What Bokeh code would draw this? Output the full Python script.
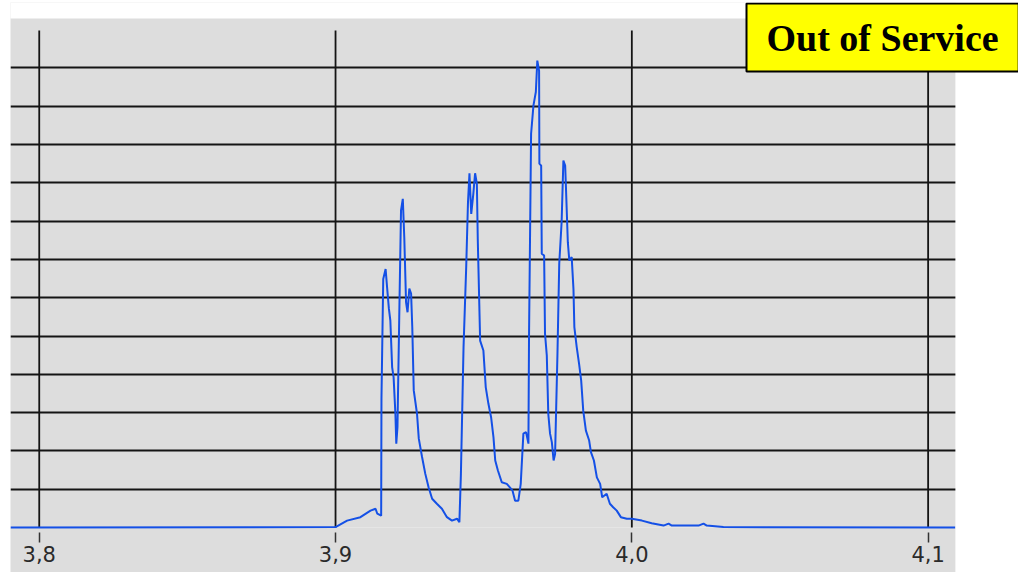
from bokeh.plotting import figure
from bokeh.models import Range1d, FixedTicker, Label, ColumnDataSource, Grid, BoxAnnotation
from bokeh.embed import file_html
from bokeh.resources import INLINE

# spectrum trace (x position, intensity in grid units of 10)
mz = [3.7903, 3.9000, 3.9039, 3.9084, 3.9118, 3.9135, 3.9141, 3.9154, 3.9155, 3.9161,
      3.9169, 3.9174, 3.9180, 3.9185, 3.9191, 3.9196, 3.9202, 3.9205, 3.9209, 3.9215,
      3.9221, 3.9227, 3.9232, 3.9238, 3.9243, 3.9249, 3.9255, 3.9259, 3.9264, 3.9275,
      3.9281, 3.9292, 3.9303, 3.9314, 3.9326, 3.9342, 3.9359, 3.9376, 3.9393, 3.9410,
      3.9418, 3.9423, 3.9432, 3.9441, 3.9447, 3.9452, 3.9458, 3.9465, 3.9471, 3.9477,
      3.9480, 3.9488, 3.9499, 3.9507, 3.9516, 3.9525, 3.9533, 3.9539, 3.9548, 3.9561,
      3.9578, 3.9597, 3.9606, 3.9617, 3.9625, 3.9634, 3.9643, 3.9651, 3.9653, 3.9660,
      3.9668, 3.9676, 3.9681, 3.9687, 3.9688, 3.9694, 3.9696, 3.9704, 3.9707, 3.9713,
      3.9718, 3.9724, 3.9730, 3.9736, 3.9741, 3.9749, 3.9755, 3.9763, 3.9769, 3.9775,
      3.9778, 3.9784, 3.9789, 3.9797, 3.9803, 3.9806, 3.9814, 3.9822, 3.9829, 3.9836,
      3.9845, 3.9856, 3.9862, 3.9872, 3.9882, 3.9893, 3.9900, 3.9915, 3.9926, 3.9937,
      3.9949, 3.9963, 3.9983, 4.0000, 4.0034, 4.0067, 4.0107, 4.0124, 4.0135, 4.0225,
      4.0242, 4.0253, 4.0309, 4.1092]
intensity = [0.0, 0.1, 1.8, 2.7, 4.4, 4.9, 3.6, 3.1, 33.7, 64.9,
             67.5, 62.7, 57.2, 54.0, 41.9, 39.2, 29.8, 21.9, 26.2, 54.9,
             82.8, 85.8, 75.8, 58.8, 56.2, 62.4, 61.1, 52.3, 35.8, 29.7,
             23.2, 18.4, 14.0, 10.5, 7.5, 6.2, 4.9, 2.7, 1.8, 2.3,
             1.4, 13.6, 47.1, 68.0, 84.9, 92.5, 81.9, 87.1, 92.5, 89.7,
             75.4, 48.8, 46.2, 36.6, 32.3, 28.8, 23.6, 17.5, 14.9, 11.8,
             11.4, 9.7, 7.0, 7.0, 11.4, 24.5, 24.9, 21.9, 49.7, 102.8,
             110.2, 113.7, 121.9, 119.3, 95.0, 94.5, 71.5, 71.0, 50.6, 44.9,
             29.7, 24.5, 22.3, 17.5, 19.2, 45.4, 68.9, 79.7, 95.8, 94.5,
             88.0, 74.5, 69.7, 70.6, 62.3, 52.3, 47.1, 42.7, 38.4, 30.5,
             25.3, 22.7, 19.7, 17.5, 13.1, 11.4, 7.9, 8.8, 6.2, 5.3,
             4.4, 2.7, 2.3, 2.3, 1.8, 1.1, 0.5, 1.0, 0.5, 0.5,
             1.0, 0.5, 0.1, 0.0]

tick_values = [3.8, 3.9, 4.0, 4.1]
tick_labels = ["3,8", "3,9", "4,0", "4,1"]
grid_levels = [10, 20, 30, 40, 50, 60, 70, 80, 90, 100, 110, 120]
vgrid_top = 129.8
status_text = "Out of Service"

# panel extent (gray area) in data coordinates
panel_right = 4.1092
panel_top = 132.9

GRAY = "#dddddd"

p = figure(width=1008, height=570,
           x_range=Range1d(3.7903, 4.1305), y_range=Range1d(-11.75, 137.08),
           output_backend="svg", toolbar_location=None,
           y_axis_location=None,
           min_border_left=0, min_border_right=0, min_border_top=0, min_border_bottom=0,
           background_fill_color=GRAY, border_fill_color="white")
p.margin = (2, 0, 0, 10)
p.outline_line_color = None
p.xgrid.visible = False

hgrid = Grid(dimension=1, ticker=FixedTicker(ticks=grid_levels),
             grid_line_color="#141414", grid_line_width=1.8)
p.add_layout(hgrid)

vsrc = ColumnDataSource(dict(x=tick_values, y0=[0] * len(tick_values), y1=[vgrid_top] * len(tick_values)))
p.segment(x0="x", y0="y0", x1="x", y1="y1", source=vsrc, line_color="#141414", line_width=1.8)

src = ColumnDataSource(dict(x=mz, y=intensity))
p.line("x", "y", source=src, line_color="#1450e6", line_width=2)

# white page outside the gray panel
p.add_layout(BoxAnnotation(left=panel_right, right=4.5, bottom=-50, top=200,
                           fill_color="white", fill_alpha=1, line_color=None))
p.add_layout(BoxAnnotation(left=3.5, right=4.5, bottom=panel_top, top=200,
                           fill_color="white", fill_alpha=1, line_color=None))

ax = p.xaxis[0]
ax.fixed_location = 0
ax.ticker = FixedTicker(ticks=tick_values)
ax.major_label_overrides = {v: l for v, l in zip(tick_values, tick_labels)}
ax.axis_line_color = None
ax.minor_tick_line_color = None
ax.major_tick_in = -5
ax.major_tick_out = 15
ax.major_tick_line_color = "#333333"
ax.major_tick_line_width = 1.5
ax.major_label_text_font = "DejaVu Sans"
ax.major_label_text_font_size = "21px"
ax.major_label_text_color = "#2a2a2a"
ax.major_label_standoff = 4

lab = Label(x=4.0387, y=136.8, text=status_text, anchor="top_left",
            text_font="Liberation Serif", text_font_style="bold", text_font_size="38px",
            text_color="black", background_fill_color="#ffff00",
            border_line_color="black", border_line_width=2,
            padding=dict(left=20, right=20, top=13, bottom=13))
p.add_layout(lab)

open("out.html", "w").write(file_html(p, INLINE))
